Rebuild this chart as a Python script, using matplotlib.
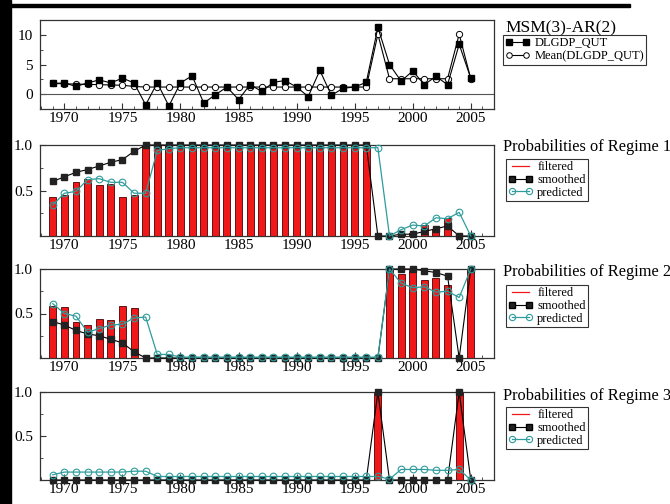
import matplotlib
matplotlib.use("Agg")
import matplotlib.pyplot as plt
from matplotlib.patches import Rectangle
from matplotlib.lines import Line2D
from matplotlib.ticker import FixedLocator, MultipleLocator

plt.rcParams['font.family'] = ['Liberation Serif', 'DejaVu Serif']

years = [1969, 1970, 1971, 1972, 1973, 1974, 1975, 1976, 1977, 1978, 1979,
         1980, 1981, 1982, 1983, 1984, 1985, 1986, 1987, 1988, 1989, 1990,
         1991, 1992, 1993, 1994, 1995, 1996, 1997, 1998, 1999, 2000, 2001,
         2002, 2003, 2004, 2005]

dlgdp = [1.8, 1.9, 1.3, 1.9, 2.4, 1.9, 2.7, 1.9, -1.8, 1.9, -2.0, 1.9, 3.1,
         -1.5, -0.1, 1.2, -0.9, 1.6, 0.45, 2.0, 2.3, 1.2, -0.4, 4.0, -0.2,
         1.0, 1.2, 2.0, 11.25, 5.0, 2.2, 3.9, 1.6, 3.0, 1.6, 8.4, 2.7]
mean_dlgdp = [1.8, 1.75, 1.7, 1.65, 1.6, 1.55, 1.5, 1.3, 1.2, 1.2, 1.2, 1.2,
              1.2, 1.2, 1.2, 1.2, 1.2, 1.2, 1.2, 1.2, 1.2, 1.2, 1.2, 1.2, 1.2,
              1.2, 1.2, 1.2, 10.1, 2.6, 2.6, 2.6, 2.6, 2.6, 2.6, 10.1, 2.6]

filt1 = [0.43, 0.45, 0.59, 0.63, 0.56, 0.57, 0.43, 0.45,
         1, 1, 1, 1, 1, 1, 1, 1, 1, 1, 1, 1, 1, 1, 1, 1, 1, 1, 1, 1,
         0, 0, 0.02, 0.03, 0.12, 0.08, 0.2, 0, 0]
smooth1 = [0.60, 0.65, 0.70, 0.73, 0.77, 0.81, 0.84, 0.93,
           1, 1, 1, 1, 1, 1, 1, 1, 1, 1, 1, 1, 1, 1, 1, 1, 1, 1, 1, 1,
           0, 0, 0.02, 0.02, 0.05, 0.08, 0.11, 0, 0]
pred1 = [0.34, 0.47, 0.49, 0.62, 0.63, 0.59, 0.59, 0.47, 0.47, 0.94, 0.96,
         0.97, 0.97, 0.97, 0.97, 0.97, 0.97, 0.97, 0.97, 0.97, 0.97, 0.97,
         0.97, 0.97, 0.97, 0.97, 0.97, 0.97, 0.97,
         0, 0.07, 0.12, 0.11, 0.2, 0.19, 0.26, 0]

filt2 = [0.58, 0.57, 0.41, 0.37, 0.44, 0.43, 0.58, 0.56,
         0, 0, 0, 0, 0, 0, 0, 0, 0, 0, 0, 0, 0, 0, 0, 0, 0, 0, 0, 0, 0,
         1.0, 0.94, 0.99, 0.88, 0.90, 0.82, 0, 1.0]
smooth2 = [0.41, 0.37, 0.31, 0.27, 0.25, 0.21, 0.17, 0.07,
           0, 0, 0, 0, 0, 0, 0, 0, 0, 0, 0, 0, 0, 0, 0, 0, 0, 0, 0, 0, 0,
           1.0, 1.0, 1.0, 0.98, 0.96, 0.92, 0, 1.0]
pred2 = [0.61, 0.50, 0.47, 0.29, 0.33, 0.37, 0.38, 0.45, 0.46, 0.04, 0.04,
         0.01, 0.01, 0.01, 0.01, 0.01, 0.01, 0.01, 0.01, 0.01, 0.01, 0.01,
         0.01, 0.01, 0.01, 0.01, 0.01, 0.01, 0.01,
         1.0, 0.84, 0.79, 0.80, 0.74, 0.75, 0.68, 1.0]

filt3 = [0, 0, 0, 0, 0, 0, 0, 0, 0, 0, 0, 0, 0, 0, 0, 0, 0, 0, 0, 0, 0, 0,
         0, 0, 0, 0, 0, 0, 1.0, 0, 0, 0, 0, 0, 0, 1.0, 0]
smooth3 = [0, 0, 0, 0, 0, 0, 0, 0, 0, 0, 0, 0, 0, 0, 0, 0, 0, 0, 0, 0, 0, 0,
           0, 0, 0, 0, 0, 0, 1.0, 0, 0, 0, 0, 0, 0, 1.0, 0]
pred3 = [0.06, 0.09, 0.09, 0.09, 0.09, 0.09, 0.09, 0.10, 0.10,
         0.04, 0.04, 0.04, 0.04, 0.04, 0.04, 0.04, 0.04, 0.04, 0.04, 0.04,
         0.04, 0.04, 0.04, 0.04, 0.04, 0.04, 0.04, 0.04, 0.04,
         0.01, 0.12, 0.12, 0.12, 0.11, 0.11, 0.12, 0.0]

xticks = [1970, 1975, 1980, 1985, 1990, 1995, 2000, 2005]

RED = '#f01818'
TEAL = '#2f9c9c'
FRAME = '#333333'

W, H = 670, 504
fig = plt.figure(figsize=(6.7, 5.04), dpi=100)


def ax_at(x0, x1, ytop, ybot):
    return fig.add_axes([x0 / W, 1 - ybot / H, (x1 - x0) / W, (ybot - ytop) / H])


def style(ax):
    for s in ax.spines.values():
        s.set_color(FRAME)
        s.set_linewidth(0.9)
    ax.set_xlim(1967.9, 2007.0)
    ax.set_xticks(xticks)
    ax.xaxis.set_minor_locator(MultipleLocator(1))
    ax.tick_params(axis='both', which='major', direction='in', length=4,
                   labelsize=11, pad=2, color=FRAME, top=False, right=False)
    ax.tick_params(axis='both', which='minor', direction='in', length=2,
                   color=FRAME, top=False, right=False)
    ax.tick_params(axis='y', pad=5)


# Panel 1
ax1 = ax_at(40, 494, 20, 109)
style(ax1)
ax1.set_ylim(-2.5, 12.5)
ax1.set_yticks([0, 5, 10])
ax1.yaxis.set_minor_locator(FixedLocator([2.5, 7.5]))
ax1.axhline(0, color='#555555', lw=0.8)
ax1.plot(years, mean_dlgdp, color='black', lw=0.8, marker='o', ms=4.5,
         mfc='white', mec='black', mew=0.7, zorder=3)
ax1.plot(years, dlgdp, color='black', lw=0.8, marker='s', ms=4.3,
         mfc='black', mec='black', zorder=4)


def regime_panel(ytop, ybot, filt, smooth, pred):
    ax = ax_at(40, 494, ytop, ybot)
    style(ax)
    ax.set_ylim(0, 1.0)
    ax.set_yticks([0.5, 1.0])
    ax.set_yticklabels(['0.5', '1.0'])
    ax.yaxis.set_minor_locator(FixedLocator([0.25, 0.75]))
    ax.bar(years, filt, width=0.6, color=RED, edgecolor='#4a0000',
           linewidth=0.6, zorder=2)
    ax.plot(years, smooth, color='black', lw=0.8, marker='s', ms=4,
            mfc='#222222', mec='#222222', zorder=3, clip_on=False)
    ax.plot(years, pred, color=TEAL, lw=0.9, marker='o', ms=4.8,
            mfc='none', mec=TEAL, mew=0.8, zorder=4, clip_on=False)
    return ax


ax2 = regime_panel(145, 236, filt1, smooth1, pred1)
ax3 = regime_panel(269, 358, filt2, smooth2, pred2)
ax4 = regime_panel(392, 480, filt3, smooth3, pred3)

# Titles
fig.text(505 / W, 1 - 28 / H, 'MSM(3)-AR(2)', fontsize=12.5, va='center', ha='left')
for ty, txt in [(147, 'Probabilities of Regime 1'),
                (272, 'Probabilities of Regime 2'),
                (396, 'Probabilities of Regime 3')]:
    fig.text(503 / W, 1 - ty / H, txt, fontsize=11.8, va='center', ha='left')

leg_kw = dict(frameon=True, fancybox=False, shadow=False, fontsize=9,
              handlelength=1.9, handletextpad=0.4, borderpad=0.2,
              labelspacing=0.05, borderaxespad=0, loc='upper left',
              numpoints=2)

h1 = [Line2D([], [], color='black', lw=0.8, marker='s', ms=4, mfc='black'),
      Line2D([], [], color='black', lw=0.8, marker='o', ms=4, mfc='white',
             mew=0.7)]
lg = fig.legend(h1, ['DLGDP_QUT', 'Mean(DLGDP_QUT)'],
                bbox_to_anchor=(503 / W, 1 - 35 / H), **leg_kw)
lg.get_frame().set_edgecolor('black')
lg.get_frame().set_linewidth(0.8)


def reg_handles():
    return [Line2D([], [], color=RED, lw=0.9),
            Line2D([], [], color='black', lw=0.8, marker='s', ms=4,
                   mfc='#222222'),
            Line2D([], [], color=TEAL, lw=0.9, marker='o', ms=4.5, mfc='none',
                   mec=TEAL, mew=0.8)]


for ytop in [159, 285, 407]:
    lg = fig.legend(reg_handles(), ['filtered', 'smoothed', 'predicted'],
                    bbox_to_anchor=(506 / W, 1 - ytop / H), **leg_kw)
    lg.get_frame().set_edgecolor('black')
    lg.get_frame().set_linewidth(0.8)

# Scan border
fig.add_artist(Rectangle((0, 0), 11 / W, 1, transform=fig.transFigure,
                         color='black', zorder=20))
fig.add_artist(Rectangle((11 / W, 1 - 7 / H), 619 / W, 3 / H,
                         transform=fig.transFigure, color='black', zorder=20))

fig.savefig('out.png', dpi=100)
